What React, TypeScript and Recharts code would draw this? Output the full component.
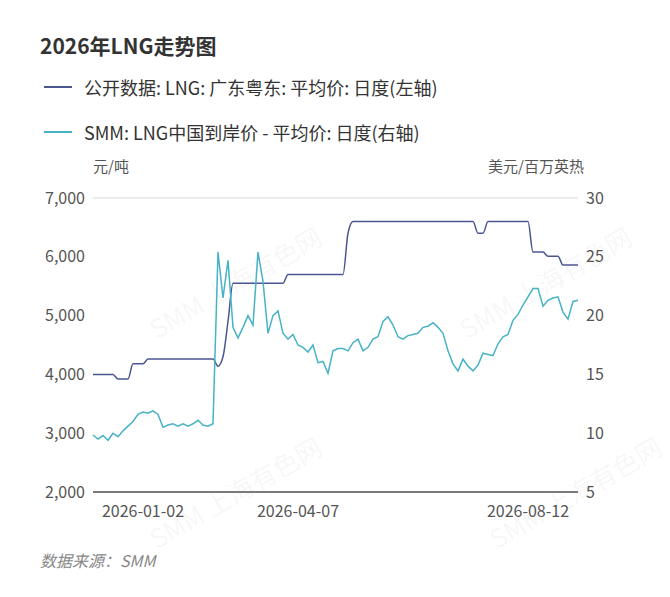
import { LineChart, Line, XAxis, YAxis, CartesianGrid } from 'recharts'

// 广东粤东 LNG 平均价 (元/吨), one point per step along the time axis
const guangdong = [
  4000, 4000, 4000, 4000, 4000, 3920, 3920, 3920, 4180, 4180,
  4180, 4260, 4260, 4260, 4260, 4260, 4260, 4260, 4260, 4260,
  4260, 4260, 4260, 4260, 4260, 4140, 4300, 4900, 5550, 5550,
  5550, 5550, 5550, 5550, 5550, 5550, 5550, 5550, 5550, 5700,
  5700, 5700, 5700, 5700, 5700, 5700, 5700, 5700, 5700, 5700,
  5700, 6400, 6600, 6600, 6600, 6600, 6600, 6600, 6600, 6600,
  6600, 6600, 6600, 6600, 6600, 6600, 6600, 6600, 6600, 6600,
  6600, 6600, 6600, 6600, 6600, 6600, 6600, 6400, 6400, 6600,
  6600, 6600, 6600, 6600, 6600, 6600, 6600, 6600, 6080, 6080,
  6080, 6010, 6010, 6010, 5860, 5860, 5860, 5860,
]

// 中国到岸价 (美元/百万英热)
const landed = [
  9.85, 9.5, 9.8, 9.4, 10.0, 9.7, 10.2, 10.6, 11.0, 11.6,
  11.8, 11.7, 11.9, 11.6, 10.5, 10.7, 10.8, 10.6, 10.8, 10.6,
  10.8, 11.1, 10.7, 10.6, 10.8, 25.4, 21.5, 24.7, 19.0, 18.1,
  19.0, 20.0, 19.2, 25.4, 22.9, 18.5, 20.0, 20.4, 18.5, 18.0,
  18.4, 17.5, 17.3, 16.9, 17.5, 16.0, 16.1, 15.1, 17.0, 17.2,
  17.2, 17.0, 17.7, 18.0, 17.0, 17.3, 18.0, 18.2, 19.5, 19.9,
  19.2, 18.2, 18.0, 18.3, 18.4, 18.5, 19.0, 19.1, 19.4, 19.0,
  18.5, 17.0, 15.9, 15.3, 16.3, 15.7, 15.3, 15.8, 16.8, 16.7,
  16.6, 17.6, 18.2, 18.4, 19.6, 20.1, 20.9, 21.6, 22.3, 22.3,
  20.8, 21.3, 21.5, 21.6, 20.3, 19.7, 21.2, 21.3,
]

const tickIndex = [10, 41, 87]
const tickLabels = ['2026-01-02', '2026-04-07', '2026-08-12']
const leftTicks = [2000, 3000, 4000, 5000, 6000, 7000]
const rightTicks = [5, 10, 15, 20, 25, 30]

const data = guangdong.map((v, i) => ({ i, gd: v, cif: landed[i] }))

const FONT = '"Noto Sans CJK SC", "Noto Sans", sans-serif'
const DARK = '#4b5691'
const CYAN = '#46b3c6'

export default function App() {
  return (
    <div style={{ position: 'relative', width: 654, height: 581, fontFamily: FONT, color: '#333' }}>
      <div style={{ position: 'absolute', left: 32, top: 22, fontSize: 21, fontWeight: 700, color: '#333' }}>
        2026年LNG走势图
      </div>
      <div style={{ position: 'absolute', left: 36, top: 66, fontSize: 18, display: 'flex', alignItems: 'center' }}>
        <span style={{ display: 'inline-block', width: 28, height: 2, background: DARK, marginRight: 12 }} />
        公开数据: LNG: 广东粤东: 平均价: 日度(左轴)
      </div>
      <div style={{ position: 'absolute', left: 36, top: 111, fontSize: 18, display: 'flex', alignItems: 'center' }}>
        <span style={{ display: 'inline-block', width: 28, height: 2, background: CYAN, marginRight: 12 }} />
        SMM: LNG中国到岸价 - 平均价: 日度(右轴)
      </div>
      <div style={{ position: 'absolute', left: 85, top: 147, fontSize: 15, color: '#555' }}>元/吨</div>
      <div style={{ position: 'absolute', right: 78, top: 147, fontSize: 15, color: '#555' }}>美元/百万英热</div>
      {[[130, 255], [130, 465], [440, 255], [470, 465]].map(([x, y], k) => (
        <div key={k} style={{ position: 'absolute', left: x, top: y, fontSize: 26, color: 'rgba(0,0,0,0.05)', transform: 'rotate(-30deg)', whiteSpace: 'nowrap' }}>
          SMM 上海有色网
        </div>
      ))}
      <div style={{ position: 'absolute', top: 172, left: 0 }}>
        <LineChart width={654} height={345} data={data} margin={{ top: 18, right: 24, bottom: 3, left: 0 }}>
          <CartesianGrid vertical={false} stroke="#e6e6e6" strokeWidth={1.5} />
          <XAxis
            dataKey="i"
            type="number"
            domain={[0, guangdong.length - 1]}
            ticks={tickIndex}
            tickFormatter={(v) => tickLabels[tickIndex.indexOf(v)] ?? ''}
            tick={{ fontSize: 16, fill: '#555', fontFamily: FONT, dy: 6 }}
            tickLine={false}
            axisLine={{ stroke: '#555', strokeWidth: 1.5 }}
            height={30}
          />
          <YAxis
            yAxisId="left"
            domain={[2000, 7000]}
            ticks={leftTicks}
            tickFormatter={(v) => v.toLocaleString('en-US')}
            tick={{ fontSize: 16, fill: '#555', fontFamily: FONT }}
            axisLine={false}
            tickLine={false}
            width={85}
          />
          <YAxis
            yAxisId="right"
            orientation="right"
            domain={[5, 30]}
            ticks={rightTicks}
            tick={{ fontSize: 16, fill: '#555', fontFamily: FONT }}
            axisLine={false}
            tickLine={false}
            width={60}
          />
          <Line yAxisId="left" dataKey="gd" stroke={DARK} strokeWidth={1.5} dot={false} isAnimationActive={false} type="monotone" />
          <Line yAxisId="right" dataKey="cif" stroke={CYAN} strokeWidth={1.5} dot={false} isAnimationActive={false} />
        </LineChart>
      </div>
      <div style={{ position: 'absolute', left: 32, top: 540, fontSize: 16, fontStyle: 'italic', color: '#888' }}>
        数据来源：SMM
      </div>
    </div>
  )
}
